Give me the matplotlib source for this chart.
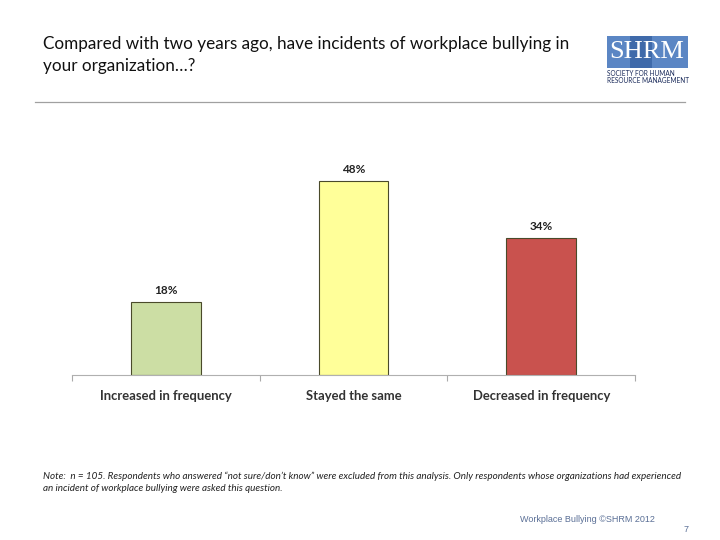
import matplotlib.pyplot as plt
from matplotlib.patches import Rectangle
from matplotlib.lines import Line2D

# data
categories = ['Increased in frequency', 'Stayed the same', 'Decreased in frequency']
values = [18, 48, 34]
bar_colors = ['#ccdea4', '#ffff99', '#c9524e']

title = 'Compared with two years ago, have incidents of workplace bullying in\nyour organization…?'
note = ('Note:  n = 105. Respondents who answered \u201cnot sure/don\u2019t know\u201d were excluded from this analysis. '
        'Only respondents whose organizations had experienced\nan incident of workplace bullying were asked this question.')
footer = 'Workplace Bullying ©SHRM 2012'

plt.rcParams['font.family'] = ['Lato', 'DejaVu Sans']

fig = plt.figure(figsize=(7.2, 5.4), dpi=100)
ax = fig.add_axes([0.1, 0.3056, 0.782, 0.448])

x = range(len(categories))
bars = ax.bar(x, values, width=0.37, color=bar_colors, edgecolor='#4a4a2a', linewidth=0.8)
for b, v in zip(bars, values):
    ax.text(b.get_x() + b.get_width() / 2, v + 1.5, f'{v}%', ha='center', va='bottom',
            fontsize=8.5, fontweight='bold', color='#222222')

ax.set_xlim(-0.5, 2.5)
ax.set_ylim(0, 60)
ax.set_yticks([])
ax.set_xticks([-0.5, 0.5, 1.5, 2.5], minor=False)
ax.set_xticklabels([])
ax.set_xticks(list(x), minor=True)
ax.set_xticklabels(categories, minor=True, fontsize=9.4, fontweight='bold', color='#333333')
ax.tick_params(axis='x', which='major', length=4, color='#aaaaaa', direction='out')
ax.tick_params(axis='x', which='minor', length=0, pad=11)
for s in ['top', 'right', 'left']:
    ax.spines[s].set_visible(False)
ax.spines['bottom'].set_color('#b0b0b0')

# title and rule
fig.text(43 / 720, 1 - 55 / 540, title, ha='left', va='center', fontsize=12.3,
         color='#111111', linespacing=1.42)
fig.add_artist(Line2D([35 / 720, 685 / 720], [1 - 102 / 540, 1 - 102 / 540],
                      color='#a0a0a0', linewidth=0.9))

# logo
fig.add_artist(Rectangle((607 / 720, 1 - 68 / 540), 81 / 720, 32 / 540,
                         facecolor='#5b86c4', edgecolor='none'))
fig.add_artist(Rectangle((630 / 720, 1 - 68 / 540), 22 / 720, 32 / 540,
                         facecolor='#3f6aaa', edgecolor='none'))
fig.text(647 / 720, 1 - 52 / 540, 'SHRM', ha='center', va='center', fontsize=19,
         color='white', family='Liberation Serif')
fig.text(607 / 720, 1 - 77 / 540, 'SOCIETY FOR HUMAN\nRESOURCE MANAGEMENT', ha='left', va='center',
         fontsize=4.7, color='#1a2a5a', linespacing=1.1)

# note and footer
fig.text(43 / 720, 1 - 482 / 540, note, ha='left', va='center', fontsize=7.1,
         style='italic', color='#222222', linespacing=1.45)
fig.text(655 / 720, 1 - 519 / 540, footer, ha='right', va='center', fontsize=6.5,
         color='#5a6f96', family='Liberation Sans')
fig.text(689 / 720, 1 - 530 / 540, '7', ha='right', va='center', fontsize=6.5,
         color='#5a6f96', family='Liberation Sans')

fig.savefig('out.png', dpi=100)
